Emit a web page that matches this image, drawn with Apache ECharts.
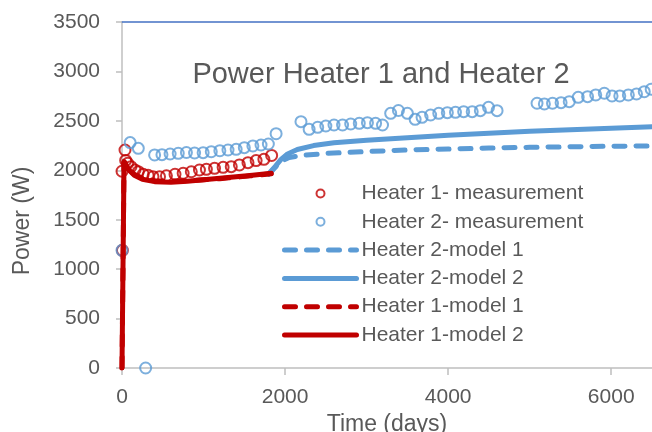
<!DOCTYPE html>
<html><head><meta charset="utf-8">
<script src="https://cdn.jsdelivr.net/npm/echarts@6/dist/echarts.min.js"></script>
<style>html,body{margin:0;padding:0;background:#fff}#c{width:652px;height:432px}</style>
</head><body><div id="c"></div>
<script>
const titleText = 'Power Heater 1 and Heater 2';
const seriesNames = ['Heater 1- measurement', 'Heater 2- measurement', 'Heater 2-model 1', 'Heater 2-model 2', 'Heater 1-model 1', 'Heater 1-model 2'];

const h1MeasX = [5, 0, 37, 45, 70, 110, 160, 200, 260, 320, 380, 460, 545, 650, 750, 850, 950, 1035, 1135, 1240, 1340, 1440, 1545, 1645, 1740, 1835];
const h1MeasY = [1190, 1990, 2205, 2100, 2070, 2037, 2003, 1986, 1960, 1950, 1935, 1935, 1945, 1960, 1970, 1985, 2003, 2010, 2020, 2030, 2037, 2054, 2077, 2098, 2111, 2150];

const h2MeasX = [0, 290, 100, 200, 400, 490, 590, 690, 790, 890, 995, 1095, 1200, 1300, 1400, 1500, 1605, 1705, 1795, 1890, 2195, 2295, 2400, 2500, 2600, 2705, 2805, 2910, 3010, 3110, 3195, 3295, 3390, 3500, 3595, 3680, 3785, 3885, 3990, 4090, 4190, 4295, 4395, 4495, 4600, 5090, 5180, 5280, 5385, 5485, 5595, 5710, 5810, 5915, 6010, 6105, 6210, 6310, 6405, 6490];
const h2MeasY = [1190, 0, 2280, 2222, 2155, 2158, 2165, 2172, 2180, 2175, 2178, 2188, 2198, 2205, 2212, 2229, 2246, 2256, 2266, 2370, 2492, 2414, 2435, 2448, 2458, 2458, 2468, 2475, 2482, 2475, 2458, 2576, 2605, 2576, 2515, 2536, 2559, 2576, 2583, 2586, 2593, 2593, 2603, 2637, 2603, 2678, 2671, 2678, 2684, 2694, 2738, 2745, 2762, 2779, 2752, 2752, 2762, 2772, 2795, 2820];

const h2M1X = [1800, 1880, 1950, 2050, 2200, 2500, 3000, 3500, 4000, 4500, 5000, 5500, 6000, 6500];
const h2M1Y = [1960, 2030, 2090, 2130, 2150, 2170, 2190, 2205, 2215, 2225, 2232, 2238, 2243, 2247];

const h2M2X = [1800, 1880, 1950, 2030, 2150, 2350, 2600, 3000, 3500, 4000, 4500, 5000, 5500, 6000, 6500];
const h2M2Y = [1965, 2040, 2110, 2165, 2210, 2250, 2278, 2305, 2330, 2355, 2375, 2395, 2410, 2425, 2440];

const h1M1X = [0, 25, 60, 100, 150, 250, 400, 600, 800, 1000, 1200, 1400, 1600, 1830];
const h1M1Y = [0, 2090, 2050, 2000, 1960, 1920, 1895, 1890, 1895, 1905, 1915, 1930, 1945, 1965];

const h1M2X = [0, 25, 60, 100, 150, 250, 400, 600, 800, 1000, 1200, 1400, 1600, 1830];
const h1M2Y = [0, 2080, 2040, 1990, 1950, 1910, 1885, 1880, 1890, 1905, 1920, 1935, 1950, 1970];

const RED = '#C00000', BLUE = '#5B9BD5', TXT = '#595959', AX = '#BFBFBF';
const zip = (xs, ys) => xs.map((x, i) => [x, ys[i]]);

function scatter(name, xs, ys, color) {
  return { name, type: 'scatter', data: zip(xs, ys), symbol: 'circle', symbolSize: 11,
    itemStyle: { color: 'rgba(0,0,0,0)', borderColor: color, borderWidth: 2 } };
}
function line(name, xs, ys, color, dashed) {
  return { name, type: 'line', data: zip(xs, ys), symbol: 'none', showSymbol: false,
    itemStyle: { color },
    lineStyle: { color, width: 5, type: dashed ? [11, 11] : 'solid', cap: 'round', join: 'round' } };
}

const chart = echarts.init(document.getElementById('c'), null, { renderer: 'canvas' });
chart.setOption({
  animation: false,
  backgroundColor: '#fff',
  textStyle: { fontFamily: 'Liberation Sans' },
  title: { text: titleText, left: 376, top: 55, textAlign: 'center',
    textStyle: { fontSize: 29, fontWeight: 'normal', color: TXT, fontFamily: 'Liberation Sans' } },
  grid: { left: 122, right: 0, top: 22, bottom: 64, containLabel: false, outerBoundsMode: 'none' },
  legend: {
    orient: 'vertical', left: 282, top: 183, padding: 0,
    itemWidth: 72, itemHeight: 8, itemGap: 7.3,
    data: seriesNames.map((n, i) => i < 2 ? n : { name: n, itemStyle: { opacity: 0 } }),
    lineStyle: { width: 'inherit', type: 'inherit', cap: 'round' },
    textStyle: { fontSize: 21, color: TXT, lineHeight: 21, fontFamily: 'Liberation Sans' }
  },
  xAxis: [{
    type: 'value', min: 0, max: 6500, interval: 2000,
    name: 'Time (days)', nameLocation: 'middle', nameGap: 42,
    nameTextStyle: { fontSize: 23, color: TXT, fontFamily: 'Liberation Sans' },
    axisLine: { show: true, onZero: false, lineStyle: { color: AX, width: 1.5 } },
    axisTick: { show: true, length: 7, inside: false, lineStyle: { color: AX, width: 1.5 } },
    axisLabel: { fontSize: 21, color: TXT, margin: 19, showMaxLabel: false, formatter: v => String(v) },
    splitLine: { show: false }
  }, {
    type: 'value', min: 0, max: 6500, position: 'top',
    axisLine: { show: true, onZero: false, lineStyle: { color: '#4472C4', width: 1.5 } },
    axisTick: { show: false }, axisLabel: { show: false }, splitLine: { show: false }
  }],
  yAxis: {
    type: 'value', min: 0, max: 3500, interval: 500,
    name: 'Power (W)', nameLocation: 'middle', nameGap: 88,
    nameTextStyle: { fontSize: 23, color: TXT, fontFamily: 'Liberation Sans', padding: [0, 52, 0, 0] },
    axisLine: { show: true, onZero: false, lineStyle: { color: AX, width: 1.5 } },
    axisTick: { show: true, length: 6, lineStyle: { color: AX, width: 1.5 } },
    axisLabel: { fontSize: 21, color: TXT, margin: 22, formatter: v => String(v) },
    splitLine: { show: false }
  },
  series: [
    scatter(seriesNames[0], h1MeasX, h1MeasY, RED),
    scatter(seriesNames[1], h2MeasX, h2MeasY, BLUE),
    line(seriesNames[2], h2M1X, h2M1Y, BLUE, true),
    line(seriesNames[3], h2M2X, h2M2Y, BLUE, false),
    line(seriesNames[4], h1M1X, h1M1Y, RED, true),
    line(seriesNames[5], h1M2X, h1M2Y, RED, false)
  ]
});
</script>
</body></html>
